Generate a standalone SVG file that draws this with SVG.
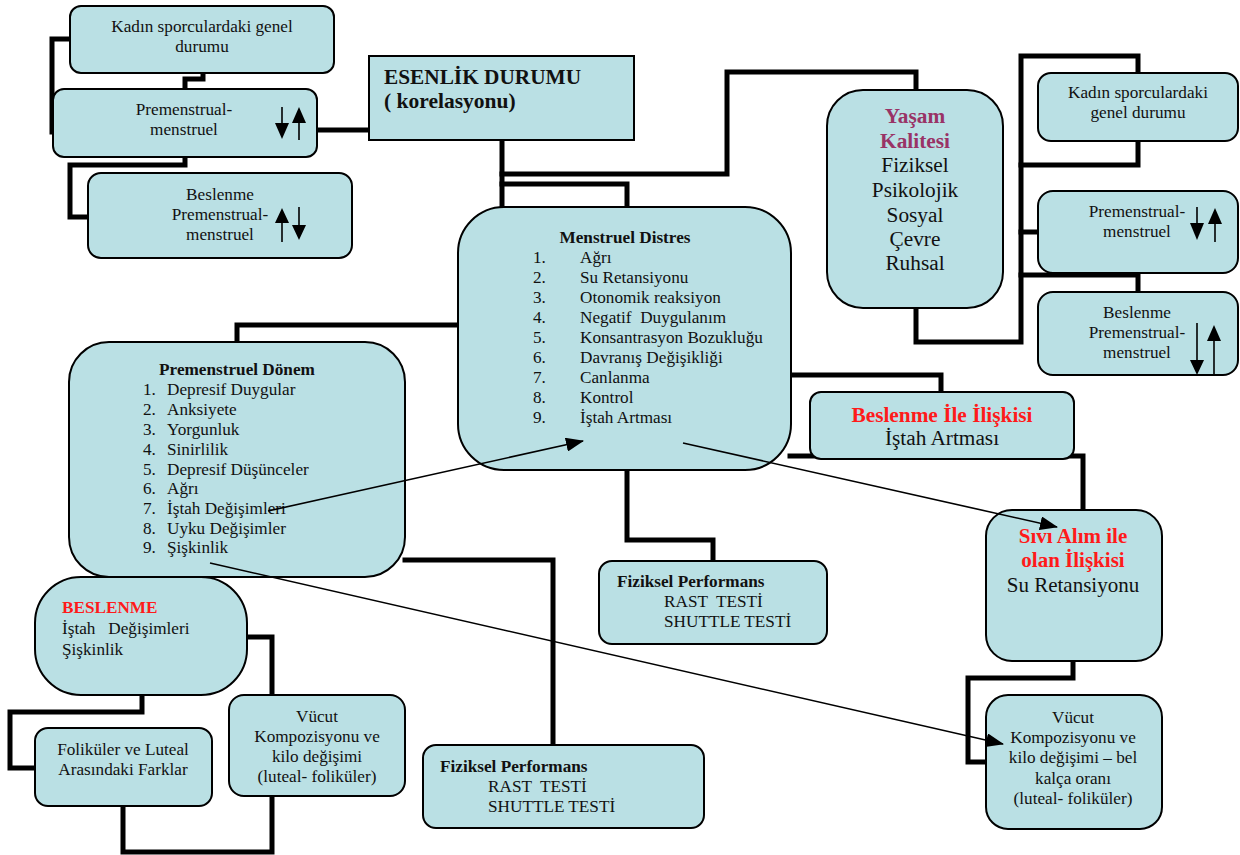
<svg xmlns="http://www.w3.org/2000/svg" width="1240" height="855" viewBox="0 0 1240 855">
  <style>
    .box { fill: #bae0e4; stroke: #000; stroke-width: 2; }
    .wire { fill: none; stroke: #000; stroke-width: 5; stroke-linejoin: miter; stroke-linecap: square; }
    .link { fill: none; stroke: #000; stroke-width: 1.6; }
    .t { font-family: "Liberation Serif", "Times New Roman", serif; font-size: 17.2px; fill: #111; }
    .c { text-anchor: middle; }
    .b { font-weight: bold; }
    .red { fill: #ff1a1a; font-weight: bold; }
    .plum { fill: #993366; font-weight: bold; }
    .big { font-size: 21.3px; }
    .glyph { fill: #000; stroke: #000; stroke-width: 1.6; }
  </style>
  <defs>
    <marker id="head" markerUnits="userSpaceOnUse" markerWidth="18" markerHeight="14" viewBox="0 0 18 14" refX="17" refY="7" orient="auto">
      <path d="M0,0 L18,7 L0,14 Z" fill="#000"/>
    </marker>
  </defs>

  <!-- thick connectors -->
  <g id="connectors">
    <path class="wire" d="M70,39 H52 V132"/>
    <path class="wire" d="M203,73 V79 H185 V89"/>
    <path class="wire" d="M185,157 V165 H70 V217 H88"/>
    <path class="wire" d="M317,130 H369"/>
    <path class="wire" d="M502,140 V207"/>
    <path class="wire" d="M502,174 H727 V72 H916 V90"/>
    <path class="wire" d="M502,184 H627 V207"/>
    <path class="wire" d="M916,308 V342 H1021 V56 H1138 V73"/>
    <path class="wire" d="M1138,141 V165 H1021"/>
    <path class="wire" d="M1021,232 H1038"/>
    <path class="wire" d="M1021,275 H1138 V292"/>
    <path class="wire" d="M790,375 H941 V392"/>
    <path class="wire" d="M790,456 H1083 V510"/>
    <path class="wire" d="M458,325 H237 V342"/>
    <path class="wire" d="M405,560 H553 V745"/>
    <path class="wire" d="M627,470 V540 H713 V561"/>
    <path class="wire" d="M1073,661 V678 H968 V762 H986"/>
    <path class="wire" d="M142,695 V712 H10 V768 H35"/>
    <path class="wire" d="M247,637 H272 V695"/>
    <path class="wire" d="M123,806 V852 H272 V796"/>
  </g>

  <!-- left column -->
  <g id="kadin-left">
    <rect class="box" x="70" y="6" width="264" height="67" rx="11"/>
    <text class="t c" x="202" y="32">Kadın sporculardaki genel</text>
    <text class="t c" x="202" y="52">durumu</text>
  </g>
  <g id="pm-left">
    <rect class="box" x="53" y="89" width="264" height="68" rx="11"/>
    <text class="t c" x="184" y="115">Premenstrual-</text>
    <text class="t c" x="184" y="135">menstruel</text>
    <path class="glyph" d="M282,107 V125"/>
    <path d="M275,123 L289,123 L282,139 Z" fill="#000"/>
    <path class="glyph" d="M299,140 V120"/>
    <path d="M292,123 L306,123 L299,107 Z" fill="#000"/>
  </g>
  <g id="beslenme-left">
    <rect class="box" x="88" y="173" width="264" height="85" rx="13"/>
    <text class="t c" x="220" y="200">Beslenme</text>
    <text class="t c" x="220" y="220">Premenstrual-</text>
    <text class="t c" x="220" y="240">menstruel</text>
    <path class="glyph" d="M282,242 V220"/>
    <path d="M275,223 L289,223 L282,208 Z" fill="#000"/>
    <path class="glyph" d="M299,207 V228"/>
    <path d="M292,225 L306,225 L299,240 Z" fill="#000"/>
  </g>
  <g id="esenlik">
    <rect class="box" x="369" y="56" width="265" height="84"/>
    <text class="t b" x="384" y="84" style="font-size:21.3px">ESENLİK DURUMU</text>
    <text class="t b" x="384" y="108" style="font-size:21.5px">( korelasyonu)</text>
  </g>

  <!-- centre -->
  <g id="menstruel-distres">
    <rect class="box" x="458" y="207" width="333" height="263" rx="46"/>
    <text class="t c b" x="625" y="243">Menstruel Distres</text>
    <g class="t">
      <text x="533" y="263">1.</text><text x="580" y="263">Ağrı</text>
      <text x="533" y="283">2.</text><text x="580" y="283">Su Retansiyonu</text>
      <text x="533" y="303">3.</text><text x="580" y="303">Otonomik reaksiyon</text>
      <text x="533" y="323">4.</text><text x="580" y="323" xml:space="preserve">Negatif  Duygulanım</text>
      <text x="533" y="343">5.</text><text x="580" y="343">Konsantrasyon Bozukluğu</text>
      <text x="533" y="363">6.</text><text x="580" y="363">Davranış Değişikliği</text>
      <text x="533" y="383">7.</text><text x="580" y="383">Canlanma</text>
      <text x="533" y="403">8.</text><text x="580" y="403">Kontrol</text>
      <text x="533" y="423">9.</text><text x="580" y="423">İştah Artması</text>
    </g>
  </g>

  <!-- right column -->
  <g id="yasam-kalitesi">
    <rect class="box" x="827" y="90" width="176" height="218" rx="36"/>
    <text class="t c big plum" x="915" y="123">Yaşam</text>
    <text class="t c big plum" x="915" y="148">Kalitesi</text>
    <text class="t c big" x="915" y="172">Fiziksel</text>
    <text class="t c big" x="915" y="197">Psikolojik</text>
    <text class="t c big" x="915" y="222">Sosyal</text>
    <text class="t c big" x="915" y="246">Çevre</text>
    <text class="t c big" x="915" y="270">Ruhsal</text>
  </g>
  <g id="kadin-right">
    <rect class="box" x="1038" y="73" width="200" height="68" rx="13"/>
    <text class="t c" x="1138" y="98">Kadın sporculardaki</text>
    <text class="t c" x="1138" y="118">genel durumu</text>
  </g>
  <g id="pm-right">
    <rect class="box" x="1038" y="191" width="200" height="82" rx="15"/>
    <text class="t c" x="1137" y="217">Premenstrual-</text>
    <text class="t c" x="1137" y="237">menstruel</text>
    <path class="glyph" d="M1197,207 V226"/>
    <path d="M1190,223 L1204,223 L1197,240 Z" fill="#000"/>
    <path class="glyph" d="M1215,242 V220"/>
    <path d="M1208,224 L1222,224 L1215,208 Z" fill="#000"/>
  </g>
  <g id="beslenme-right">
    <rect class="box" x="1038" y="292" width="200" height="83" rx="15"/>
    <text class="t c" x="1137" y="318">Beslenme</text>
    <text class="t c" x="1137" y="338">Premenstrual-</text>
    <text class="t c" x="1137" y="358">menstruel</text>
    <path class="glyph" d="M1197,323 V362"/>
    <path d="M1190,360 L1204,360 L1197,375 Z" fill="#000"/>
    <path class="glyph" d="M1214,376 V338"/>
    <path d="M1207,341 L1221,341 L1214,325 Z" fill="#000"/>
  </g>
  <g id="beslenme-iliskisi">
    <rect class="box" x="810" y="392" width="264" height="67" rx="11"/>
    <text class="t c big red" x="942" y="422">Beslenme İle İlişkisi</text>
    <text class="t c big" x="942" y="445">İştah Artması</text>
  </g>
  <g id="sivi-alim">
    <rect class="box" x="986" y="510" width="176" height="151" rx="26"/>
    <text class="t c red" x="1073" y="543" style="font-size:21px">Sıvı Alım ile</text>
    <text class="t c red" x="1073" y="567" style="font-size:21px">olan İlişkisi</text>
    <text class="t c" x="1073" y="592" style="font-size:21px">Su Retansiyonu</text>
  </g>
  <g id="vucut-right">
    <rect class="box" x="986" y="695" width="176" height="134" rx="22"/>
    <text class="t c" x="1073" y="723">Vücut</text>
    <text class="t c" x="1073" y="743">Kompozisyonu ve</text>
    <text class="t c" x="1073" y="763">kilo değişimi – bel</text>
    <text class="t c" x="1073" y="784">kalça oranı</text>
    <text class="t c" x="1073" y="804">(luteal- foliküler)</text>
  </g>

  <!-- lower left -->
  <g id="premenstruel-donem">
    <rect class="box" x="69" y="342" width="336" height="235" rx="40"/>
    <text class="t c b" x="237" y="375">Premenstruel Dönem</text>
    <g class="t">
      <text x="143" y="395">1.</text><text x="167" y="395">Depresif Duygular</text>
      <text x="143" y="415">2.</text><text x="167" y="415">Anksiyete</text>
      <text x="143" y="435">3.</text><text x="167" y="435">Yorgunluk</text>
      <text x="143" y="455">4.</text><text x="167" y="455">Sinirlilik</text>
      <text x="143" y="475">5.</text><text x="167" y="475">Depresif Düşünceler</text>
      <text x="143" y="494">6.</text><text x="167" y="494">Ağrı</text>
      <text x="143" y="514">7.</text><text x="167" y="514">İştah Değişimleri</text>
      <text x="143" y="534">8.</text><text x="167" y="534">Uyku Değişimler</text>
      <text x="143" y="553">9.</text><text x="167" y="553">Şişkinlik</text>
    </g>
  </g>
  <g id="fiziksel-mid">
    <rect class="box" x="599" y="561" width="228" height="83" rx="13"/>
    <text class="t b" x="617" y="587">Fiziksel Performans</text>
    <text class="t" x="664" y="607" xml:space="preserve">RAST  TESTİ</text>
    <text class="t" x="664" y="627">SHUTTLE TESTİ</text>
  </g>
  <g id="fiziksel-bottom">
    <rect class="box" x="423" y="745" width="281" height="83" rx="13"/>
    <text class="t b" x="440" y="772">Fiziksel Performans</text>
    <text class="t" x="488" y="792" xml:space="preserve">RAST  TESTİ</text>
    <text class="t" x="488" y="812">SHUTTLE TESTİ</text>
  </g>
  <g id="beslenme">
    <rect class="box" x="35" y="577" width="212" height="118" rx="46"/>
    <text class="t red" x="62" y="613">BESLENME</text>
    <text class="t" x="62" y="634" xml:space="preserve">İştah   Değişimleri</text>
    <text class="t" x="62" y="655">Şişkinlik</text>
  </g>
  <g id="folikuler-luteal">
    <rect class="box" x="35" y="728" width="177" height="78" rx="13"/>
    <text class="t c" x="123" y="755">Foliküler ve Luteal</text>
    <text class="t c" x="123" y="775">Arasındaki Farklar</text>
  </g>
  <g id="vucut-left">
    <rect class="box" x="229" y="695" width="176" height="101" rx="15"/>
    <text class="t c" x="317" y="722">Vücut</text>
    <text class="t c" x="317" y="742">Kompozisyonu ve</text>
    <text class="t c" x="317" y="762">kilo değişimi</text>
    <text class="t c" x="317" y="782">(luteal- foliküler)</text>
  </g>

  <!-- thin cross-links drawn over the boxes -->
  <g id="links">
    <path class="link" d="M268,511 L583,441" marker-end="url(#head)"/>
    <path class="link" d="M683,443 L1057,527" marker-end="url(#head)"/>
    <path class="link" d="M210,563 L1003,744" marker-end="url(#head)"/>
  </g>
</svg>
